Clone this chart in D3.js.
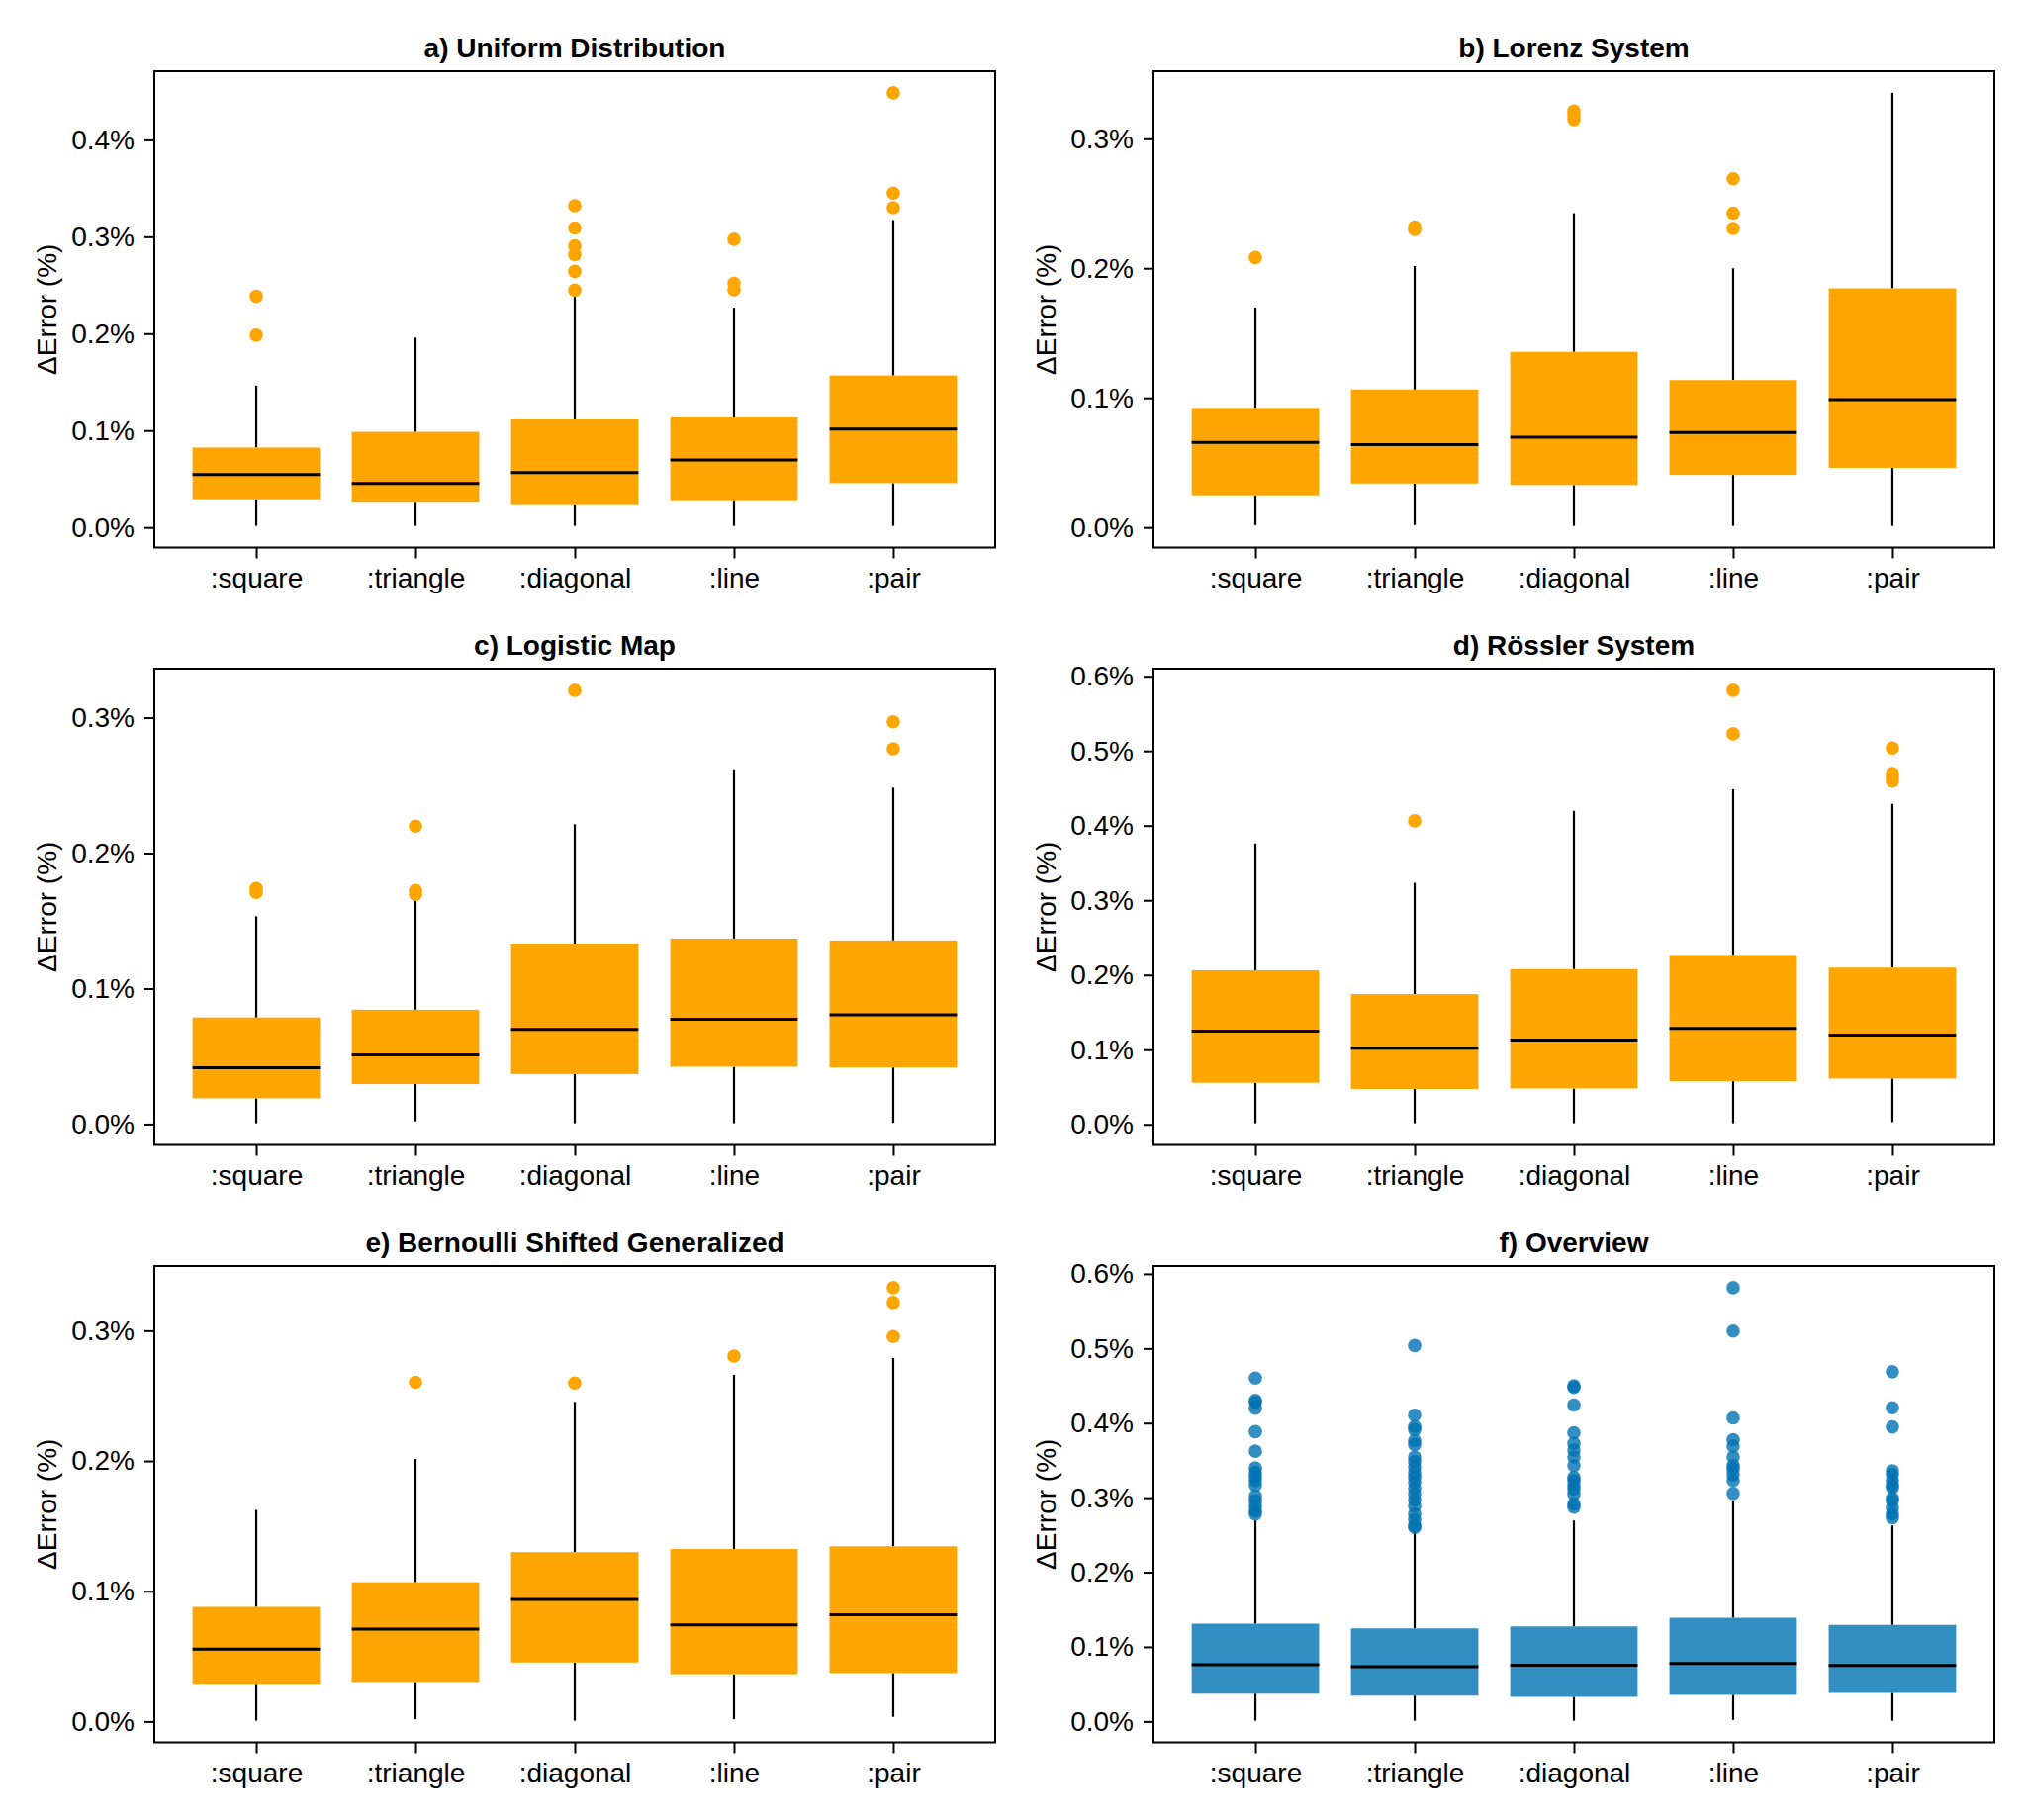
<!DOCTYPE html>
<html>
<head>
<meta charset="utf-8">
<script src="https://cdn.jsdelivr.net/npm/d3@7"></script>
<style>
  html, body { margin: 0; padding: 0; background: #fff; }
  svg { display: block; }
  text { font-family: "Liberation Sans", Arial, Helvetica, sans-serif; }
</style>
</head>
<body>
<svg id="chart" width="2048" height="1840"></svg>
<script>
// ---------------- DATA ----------------
const categories = [":square", ":triangle", ":diagonal", ":line", ":pair"];
const titles = ["a) Uniform Distribution", "b) Lorenz System", "c) Logistic Map",
                "d) Rössler System", "e) Bernoulli Shifted Generalized", "f) Overview"];
const yLabel = "ΔError (%)";

// tick values (percent) per panel
const ticksA = [0.0, 0.1, 0.2, 0.3, 0.4];
const ticksB = [0.0, 0.1, 0.2, 0.3];
const ticksC = [0.0, 0.1, 0.2, 0.3];
const ticksD = [0.0, 0.1, 0.2, 0.3, 0.4, 0.5, 0.6];
const ticksE = [0.0, 0.1, 0.2, 0.3];
const ticksF = [0.0, 0.1, 0.2, 0.3, 0.4, 0.5, 0.6];

// box stats per category: [whiskerLow, q1, median, q3, whiskerHigh] (in %)
const boxesA = [
  [0.0016, 0.0291, 0.0545, 0.0824, 0.1463],
  [0.0016, 0.0255, 0.0453, 0.0986, 0.1960],
  [0.0016, 0.0230, 0.0566, 0.1115, 0.2380],
  [0.0016, 0.0271, 0.0695, 0.1135, 0.2267],
  [0.0016, 0.0457, 0.1014, 0.1568, 0.3172]
];
const outliersA = [
  [0.2384, 0.1984],
  [],
  [0.3320, 0.3090, 0.2905, 0.2816, 0.2642, 0.2448],
  [0.2974, 0.2517, 0.2453],
  [0.4485, 0.3450, 0.3300]
];

const boxesB = [
  [0.0018, 0.0248, 0.0656, 0.0922, 0.1696],
  [0.0018, 0.0339, 0.0638, 0.1064, 0.2017],
  [0.0012, 0.0327, 0.0696, 0.1355, 0.2425],
  [0.0012, 0.0405, 0.0732, 0.1137, 0.2000],
  [0.0012, 0.0460, 0.0986, 0.1845, 0.3354]
];
const outliersB = [
  [0.2083],
  [0.2319, 0.2300],
  [0.3214, 0.3185, 0.3148],
  [0.2691, 0.2425, 0.2307],
  []
];

const boxesC = [
  [0.0006, 0.0190, 0.0415, 0.0787, 0.1534],
  [0.0020, 0.0295, 0.0511, 0.0844, 0.1659],
  [0.0006, 0.0369, 0.0699, 0.1332, 0.2213],
  [0.0006, 0.0423, 0.0773, 0.1369, 0.2619],
  [0.0009, 0.0418, 0.0807, 0.1355, 0.2483]
];
const outliersC = [
  [0.1739, 0.1710],
  [0.2199, 0.1724, 0.1696],
  [0.3202],
  [],
  [0.2969, 0.2770]
];

const boxesD = [
  [0.0015, 0.0557, 0.1248, 0.2063, 0.3760],
  [0.0015, 0.0474, 0.1021, 0.1743, 0.3234],
  [0.0015, 0.0480, 0.1129, 0.2078, 0.4198],
  [0.0015, 0.0578, 0.1284, 0.2269, 0.4487],
  [0.0030, 0.0614, 0.1196, 0.2099, 0.4291]
];
const outliersD = [
  [],
  [0.4064],
  [],
  [0.5812, 0.5229],
  [0.5039, 0.4698, 0.4650, 0.4595]
];

const boxesE = [
  [0.0006, 0.0282, 0.0556, 0.0880, 0.1625],
  [0.0018, 0.0303, 0.0709, 0.1069, 0.2015],
  [0.0006, 0.0453, 0.0937, 0.1300, 0.2453],
  [0.0018, 0.0363, 0.0742, 0.1324, 0.2661],
  [0.0036, 0.0372, 0.0820, 0.1345, 0.2790]
];
const outliersE = [
  [],
  [0.2604],
  [0.2598],
  [0.2805],
  [0.3330, 0.3216, 0.2955]
];

const boxesF = [
  [0.0010, 0.0372, 0.0760, 0.1311, 0.2695],
  [0.0010, 0.0346, 0.0734, 0.1248, 0.2549],
  [0.0010, 0.0330, 0.0755, 0.1274, 0.2695],
  [0.0020, 0.0357, 0.0776, 0.1390, 0.2958],
  [0.0010, 0.0383, 0.0750, 0.1295, 0.2627]
];
const outliersF = [
  [0.4604, 0.4305, 0.4279, 0.4200, 0.3886, 0.3623, 0.3398, 0.3335, 0.3283, 0.3230, 0.3167, 0.3020, 0.2958, 0.2889, 0.2821, 0.2779],
  [0.5039, 0.4106, 0.3954, 0.3912, 0.3765, 0.3713, 0.3545, 0.3482, 0.3414, 0.3335, 0.3272, 0.3204, 0.3125, 0.3047, 0.2968, 0.2889, 0.2784, 0.2706, 0.2627, 0.2600],
  [0.4499, 0.4478, 0.4242, 0.3870, 0.3728, 0.3639, 0.3545, 0.3430, 0.3272, 0.3230, 0.3167, 0.3115, 0.3047, 0.2916, 0.2874],
  [0.5815, 0.5233, 0.4069, 0.3776, 0.3692, 0.3545, 0.3430, 0.3388, 0.3309, 0.3230, 0.3057],
  [0.4688, 0.4205, 0.3949, 0.3361, 0.3309, 0.3230, 0.3167, 0.3136, 0.2994, 0.2958, 0.2863, 0.2784, 0.2732]
];

// ---------------- LAYOUT / STYLE ----------------
const ORANGE = "#FFA500";
const BLUE = "#0072B2";
const panels = [
  { title: titles[0], ticks: ticksA, boxes: boxesA, outliers: outliersA, color: ORANGE, alpha: 1 },
  { title: titles[1], ticks: ticksB, boxes: boxesB, outliers: outliersB, color: ORANGE, alpha: 1 },
  { title: titles[2], ticks: ticksC, boxes: boxesC, outliers: outliersC, color: ORANGE, alpha: 1 },
  { title: titles[3], ticks: ticksD, boxes: boxesD, outliers: outliersD, color: ORANGE, alpha: 1 },
  { title: titles[4], ticks: ticksE, boxes: boxesE, outliers: outliersE, color: ORANGE, alpha: 1 },
  { title: titles[5], ticks: ticksF, boxes: boxesF, outliers: outliersF, color: BLUE, alpha: 0.8 }
];
const colX = [156, 1166];
const rowY = [72, 676, 1280];
const PW = 850, PH = 481.5;
const FS = 28;
const BOXW = 0.8;

const svg = d3.select("#chart");

panels.forEach((p, i) => {
  const x0 = colX[i % 2], y0 = rowY[Math.floor(i / 2)];
  const g = svg.append("g").attr("transform", `translate(${x0},${y0})`);

  // x scale: categories at 1..5, limits from box extents with 5% margins
  const xmin = 1 - BOXW / 2, xmax = categories.length + BOXW / 2;
  const xm = 0.05 * (xmax - xmin);
  const x = d3.scaleLinear().domain([xmin - xm, xmax + xm]).range([0, PW]);

  // y scale: data extent with 5% margins
  const allVals = p.boxes.flat().concat(p.outliers.flat());
  const [ymn, ymx] = d3.extent(allVals);
  const ym = 0.05 * (ymx - ymn);
  const y = d3.scaleLinear().domain([ymn - ym, ymx + ym]).range([PH, 0]);

  const cat = g.selectAll("g.cat").data(p.boxes).join("g").attr("class", "cat");
  // lower whisker
  cat.append("line")
    .attr("x1", (d, j) => x(j + 1)).attr("x2", (d, j) => x(j + 1))
    .attr("y1", d => y(d[0])).attr("y2", d => y(d[1]))
    .attr("stroke", "#000").attr("stroke-width", 2.2);
  // upper whisker
  cat.append("line")
    .attr("x1", (d, j) => x(j + 1)).attr("x2", (d, j) => x(j + 1))
    .attr("y1", d => y(d[3])).attr("y2", d => y(d[4]))
    .attr("stroke", "#000").attr("stroke-width", 2.2);
  // box
  cat.append("rect")
    .attr("x", (d, j) => x(j + 1 - BOXW / 2))
    .attr("width", (d, j) => x(j + 1 + BOXW / 2) - x(j + 1 - BOXW / 2))
    .attr("y", d => y(d[3]))
    .attr("height", d => y(d[1]) - y(d[3]))
    .attr("fill", p.color).attr("fill-opacity", p.alpha);
  // median
  cat.append("line")
    .attr("x1", (d, j) => x(j + 1 - BOXW / 2)).attr("x2", (d, j) => x(j + 1 + BOXW / 2))
    .attr("y1", d => y(d[2])).attr("y2", d => y(d[2]))
    .attr("stroke", "#000").attr("stroke-width", 3);

  // outliers
  p.outliers.forEach((arr, j) => {
    g.selectAll(null).data(arr).join("circle")
      .attr("cx", x(j + 1)).attr("cy", d => y(d))
      .attr("r", 6.8)
      .attr("fill", p.color).attr("fill-opacity", p.alpha);
  });

  // frame
  g.append("rect").attr("x", 0).attr("y", 0).attr("width", PW).attr("height", PH)
    .attr("fill", "none").attr("stroke", "#000").attr("stroke-width", 2);

  // y axis
  const yAxis = d3.axisLeft(y).tickValues(p.ticks).tickSize(10).tickPadding(10)
    .tickFormat(d => d3.format(".1f")(d) + "%");
  const ya = g.append("g").call(yAxis);
  ya.select(".domain").remove();
  ya.selectAll("line").attr("stroke-width", 2);
  ya.selectAll("text").attr("font-size", FS).attr("fill", "#000")
    .attr("font-family", "'Liberation Sans', Arial, sans-serif");

  // x axis
  const xAxis = d3.axisBottom(x).tickValues(categories.map((c, j) => j + 1)).tickSize(11)
    .tickPadding(10).tickFormat((d, j) => categories[j]);
  const xa = g.append("g").attr("transform", `translate(0,${PH})`).call(xAxis);
  xa.select(".domain").remove();
  xa.selectAll("line").attr("stroke-width", 2);
  xa.selectAll("text").attr("font-size", FS).attr("fill", "#000")
    .attr("font-family", "'Liberation Sans', Arial, sans-serif");

  // title
  g.append("text").attr("x", PW / 2).attr("y", -14)
    .attr("text-anchor", "middle").attr("font-weight", "bold").attr("font-size", FS)
    .text(p.title);

  // y label
  g.append("text")
    .attr("transform", `translate(-99,${PH / 2}) rotate(-90)`)
    .attr("text-anchor", "middle").attr("font-size", FS)
    .text(yLabel);
});
</script>
</body>
</html>
